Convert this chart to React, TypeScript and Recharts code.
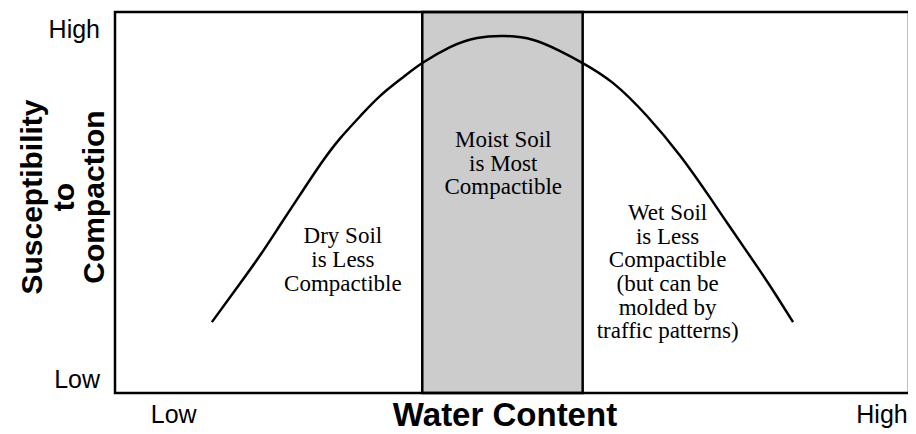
import React from "react";
import { LineChart, Line, XAxis, YAxis, ReferenceArea, ReferenceDot, Label } from "recharts";

// curve (water content 0-100, susceptibility 0-100)
const waterContent = [12.2, 15.7, 18.3, 20.8, 23.3, 25.9, 28.3, 30.9, 33.4, 36.3, 38.7, 42.2, 45.6, 49.1, 52.6, 56.0, 58.9, 62.7, 67.0, 71.2, 74.9, 77.8, 80.9, 83.4, 85.4];
const susceptibility = [18.6, 28.6, 36.2, 44.1, 52.0, 60.1, 66.7, 72.7, 78.0, 82.9, 86.6, 90.8, 93.2, 93.7, 92.7, 89.8, 86.6, 81.4, 72.7, 62.2, 51.4, 42.5, 33.1, 25.2, 18.6];

// moist band
const moistBand = [38.7, 58.9];

const xTicks = [7.4, 96.6];
const xTickLabels = ["Low", "High"];
const yTicks = [3.6, 95.5];
const yTickLabels = ["Low", "High"];

const notes = [
  { x: 28.7, y: 35.2, lines: ["Dry Soil", "is Less", "Compactible"] },
  { x: 48.9, y: 60.5, lines: ["Moist Soil", "is Most", "Compactible"] },
  { x: 69.6, y: 32.0, lines: ["Wet Soil", "is Less", "Compactible", "(but can be", "molded by", "traffic patterns)"] },
];

const data = waterContent.map((x, i) => ({ x, y: susceptibility[i] }));

const SANS = "'Liberation Sans', Arial, Helvetica, sans-serif";
const SERIF = "'Liberation Serif', 'Times New Roman', serif";

const XTick = (props: any) => {
  const i = xTicks.indexOf(props.payload.value);
  return (
    <text x={props.x} y={406} dy="0.35em" textAnchor="middle" fontFamily={SANS} fontSize={25} fill="#000">
      {xTickLabels[i]}
    </text>
  );
};

const YTick = (props: any) => {
  const i = yTicks.indexOf(props.payload.value);
  return (
    <text x={92} y={props.y} dy="0.35em" textAnchor="end" fontFamily={SANS} fontSize={25} fill="#000">
      {yTickLabels[i]}
    </text>
  );
};

const YTitle = () => {
  const lines = [
    { t: "Susceptibility", x: 23 },
    { t: "to", x: 55 },
    { t: "Compaction", x: 85 },
  ];
  return (
    <g>
      {lines.map((l) => (
        <text
          key={l.t}
          x={l.x}
          y={189}
          transform={`rotate(-90, ${l.x}, 189)`}
          textAnchor="middle"
          dominantBaseline="central"
          fontFamily={SANS}
          fontWeight="bold"
          fontSize={30}
          fill="#000"
        >
          {l.t}
        </text>
      ))}
    </g>
  );
};

const XTitle = () => (
  <text x={497} y={406} dy="0.35em" textAnchor="middle" fontFamily={SANS} fontWeight="bold" fontSize={33} fill="#000">
    Water Content
  </text>
);

const noteLabel = (lines: string[]) => (props: any) => {
  const vb = props.viewBox;
  const cx = vb.x + vb.width / 2;
  const cy = vb.y + vb.height / 2;
  const gap = 23.6;
  const start = cy - ((lines.length - 1) * gap) / 2;
  return (
    <text textAnchor="middle" fontFamily={SERIF} fontSize={23} fill="#000">
      {lines.map((ln, i) => (
        <tspan key={i} x={cx} y={start + i * gap} dy="0.35em">
          {ln}
        </tspan>
      ))}
    </text>
  );
};

export default function App() {
  return (
    <LineChart width={908} height={426} data={data} margin={{ top: 4, right: 7, bottom: 0, left: 0 }}>
      <XAxis
        type="number"
        dataKey="x"
        domain={[0, 100]}
        ticks={xTicks}
        tick={<XTick />}
        axisLine={false}
        tickLine={false}
        height={41}
        allowDataOverflow
      >
        <Label content={<XTitle />} />
      </XAxis>
      <YAxis
        type="number"
        domain={[0, 100]}
        ticks={yTicks}
        tick={<YTick />}
        axisLine={false}
        tickLine={false}
        width={107}
        allowDataOverflow
      >
        <Label content={<YTitle />} />
      </YAxis>
      <ReferenceArea x1={moistBand[0]} x2={moistBand[1]} y1={0} y2={100} fill="#cccccc" fillOpacity={1} stroke="#000" strokeWidth={2.5} />
      <ReferenceArea x1={0} x2={100} y1={0} y2={100} fill="none" stroke="#000" strokeWidth={2.5} />
      {notes.map((n, i) => (
        <ReferenceDot key={i} x={n.x} y={n.y} r={1} fill="none" stroke="none" label={noteLabel(n.lines)} />
      ))}
      <Line type="natural" dataKey="y" stroke="#000" strokeWidth={2.5} dot={false} isAnimationActive={false} />
    </LineChart>
  );
}
